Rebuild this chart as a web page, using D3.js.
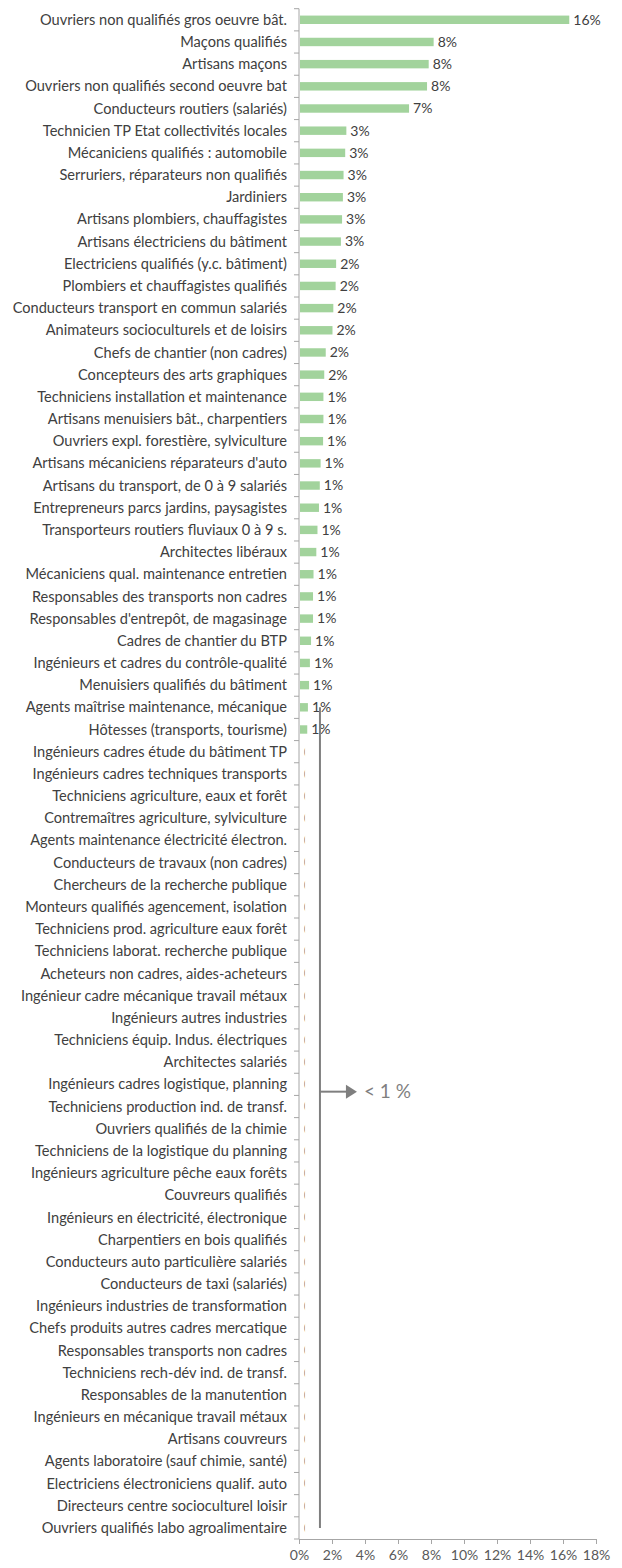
<!DOCTYPE html>
<html>
<head>
<meta charset="utf-8">
<script src="https://d3js.org/d3.v7.min.js"></script>
<style>
  body { margin: 0; background: #fff; }
  svg text { font-family: Lato, "Open Sans", sans-serif; }
  .cat { fill: #404040; font-size: 14.6px; }
  .val { fill: #404040; font-size: 14px; }
  .xax text { fill: #595959; font-size: 14px; }
  .note { fill: #7f7f7f; font-size: 19px; }
</style>
</head>
<body>
<svg width="622" height="1568"></svg>
<script>
const categories = [
  "Ouvriers non qualifiés gros oeuvre bât.",
  "Maçons qualifiés",
  "Artisans maçons",
  "Ouvriers non qualifiés second oeuvre bat",
  "Conducteurs routiers (salariés)",
  "Technicien TP Etat collectivités locales",
  "Mécaniciens qualifiés : automobile",
  "Serruriers, réparateurs non qualifiés",
  "Jardiniers",
  "Artisans plombiers, chauffagistes",
  "Artisans électriciens du bâtiment",
  "Electriciens qualifiés (y.c. bâtiment)",
  "Plombiers et chauffagistes qualifiés",
  "Conducteurs transport en commun salariés",
  "Animateurs socioculturels et de loisirs",
  "Chefs de chantier (non cadres)",
  "Concepteurs des arts graphiques",
  "Techniciens installation et maintenance",
  "Artisans menuisiers bât., charpentiers",
  "Ouvriers expl. forestière, sylviculture",
  "Artisans mécaniciens réparateurs d'auto",
  "Artisans du transport, de 0 à 9 salariés",
  "Entrepreneurs parcs jardins, paysagistes",
  "Transporteurs routiers fluviaux 0 à 9 s.",
  "Architectes libéraux",
  "Mécaniciens qual. maintenance entretien",
  "Responsables des transports non cadres",
  "Responsables d'entrepôt, de magasinage",
  "Cadres de chantier du BTP",
  "Ingénieurs et cadres du contrôle-qualité",
  "Menuisiers qualifiés du bâtiment",
  "Agents maîtrise maintenance, mécanique",
  "Hôtesses (transports, tourisme)",
  "Ingénieurs cadres étude du bâtiment TP",
  "Ingénieurs cadres techniques transports",
  "Techniciens agriculture, eaux et forêt",
  "Contremaîtres agriculture, sylviculture",
  "Agents maintenance électricité électron.",
  "Conducteurs de travaux (non cadres)",
  "Chercheurs de la recherche publique",
  "Monteurs qualifiés agencement, isolation",
  "Techniciens prod. agriculture eaux forêt",
  "Techniciens laborat. recherche publique",
  "Acheteurs non cadres, aides-acheteurs",
  "Ingénieur cadre mécanique travail métaux",
  "Ingénieurs autres industries",
  "Techniciens équip. Indus. électriques",
  "Architectes salariés",
  "Ingénieurs cadres logistique, planning",
  "Techniciens production ind. de transf.",
  "Ouvriers qualifiés de la chimie",
  "Techniciens de la logistique du planning",
  "Ingénieurs agriculture pêche eaux forêts",
  "Couvreurs qualifiés",
  "Ingénieurs en électricité, électronique",
  "Charpentiers en bois qualifiés",
  "Conducteurs auto particulière salariés",
  "Conducteurs de taxi (salariés)",
  "Ingénieurs industries de transformation",
  "Chefs produits autres cadres mercatique",
  "Responsables transports non cadres",
  "Techniciens rech-dév ind. de transf.",
  "Responsables de la manutention",
  "Ingénieurs en mécanique travail métaux",
  "Artisans couvreurs",
  "Agents laboratoire (sauf chimie, santé)",
  "Electriciens électroniciens qualif. auto",
  "Directeurs centre socioculturel loisir",
  "Ouvriers qualifiés labo agroalimentaire"
];

// share of each profession, in %
const values = [
  16.38, 8.16, 7.86, 7.76, 6.67,
  2.87, 2.80, 2.70, 2.66, 2.61, 2.54,
  2.25, 2.22, 2.08, 2.03, 1.62, 1.53,
  1.48, 1.48, 1.46, 1.31, 1.26, 1.21, 1.12, 1.05,
  0.88, 0.85, 0.85, 0.73, 0.66, 0.61, 0.54, 0.50,
  0.04, 0.04, 0.04, 0.04, 0.04, 0.04, 0.04, 0.04, 0.04,
  0.04, 0.04, 0.04, 0.04, 0.04, 0.04, 0.04, 0.04, 0.04,
  0.04, 0.04, 0.04, 0.04, 0.04, 0.04, 0.04, 0.04, 0.04,
  0.04, 0.04, 0.04, 0.04, 0.04, 0.04, 0.04, 0.04, 0.04
];

const xTicks = [0, 2, 4, 6, 8, 10, 12, 14, 16, 18];
const noteText = "< 1 %";

const data = categories.map((c, i) => ({ cat: c, val: values[i] }));

const margin = { left: 299, right: 26, top: 8.7, bottom: 29 };
const svg = d3.select('svg');
const width = +svg.attr('width');
const height = +svg.attr('height');
const innerWidth = width - margin.left - margin.right;
const innerHeight = height - margin.top - margin.bottom;

const g = svg.append('g')
  .attr('transform', `translate(${margin.left},${margin.top})`);

const x = d3.scaleLinear().domain([0, 18]).range([0, innerWidth]);
const y = d3.scaleBand().domain(categories).range([0, innerHeight])
  .paddingInner(0.62).paddingOuter(0.31);
const step = y.step();

// bars
g.selectAll('.bar').data(data).enter().append('rect')
  .attr('class', 'bar')
  .attr('x', 1)
  .attr('y', d => y(d.cat))
  .attr('width', d => Math.max(0, x(d.val) - 1))
  .attr('height', y.bandwidth())
  .attr('fill', '#a2d39c');

// category labels
g.selectAll('.cat').data(data).enter().append('text')
  .attr('class', 'cat')
  .attr('x', -12)
  .attr('y', d => y(d.cat) + y.bandwidth() / 2)
  .attr('dy', '0.35em')
  .attr('text-anchor', 'end')
  .text(d => d.cat);

// value labels; the tiny ones are mostly hidden in the original
const big = data.filter(d => d.val >= 0.3);
const tiny = data.filter(d => d.val < 0.3);

g.selectAll('.val').data(big).enter().append('text')
  .attr('class', 'val')
  .attr('x', d => x(d.val) + 4)
  .attr('y', d => y(d.cat) + y.bandwidth() / 2)
  .attr('dy', '0.35em')
  .text(d => Math.round(d.val) + '%');

svg.append('clipPath').attr('id', 'tinyclip')
  .append('rect')
  .attr('x', x(0.04) + 4)
  .attr('y', 0)
  .attr('width', 1.4)
  .attr('height', innerHeight);

g.append('g').attr('clip-path', 'url(#tinyclip)')
  .selectAll('text').data(tiny).enter().append('text')
  .attr('class', 'val')
  .attr('x', d => x(d.val) + 4)
  .attr('y', d => y(d.cat) + y.bandwidth() / 2)
  .attr('dy', '0.35em')
  .style('fill', '#9a9a9a')
  .text(d => Math.round(d.val) + '%');

// y axis line with ticks between categories
const yAxisG = g.append('g');
yAxisG.append('line')
  .attr('x1', 0).attr('x2', 0)
  .attr('y1', 0).attr('y2', innerHeight)
  .attr('stroke', '#a6a6a6');
yAxisG.selectAll('line.tk').data(d3.range(categories.length + 1)).enter().append('line')
  .attr('class', 'tk')
  .attr('x1', -5).attr('x2', 0)
  .attr('y1', i => i * step).attr('y2', i => i * step)
  .attr('stroke', '#a6a6a6');

// x axis
const xAxisG = g.append('g')
  .attr('class', 'xax')
  .attr('transform', `translate(0,${innerHeight})`)
  .call(d3.axisBottom(x).tickValues(xTicks).tickSize(5).tickPadding(6)
    .tickFormat(d => d + '%'));
xAxisG.selectAll('path, line').attr('stroke', '#a6a6a6');

// "< 1 %" bracket annotation
const noteX = x(1.27);
const topY = y(categories[31]) + y.bandwidth() / 2;
const botY = y(categories[categories.length - 1]) + y.bandwidth() / 2;
const arrowY = y(categories[48]) + y.bandwidth() / 2 + 0.33 * step;

g.append('line')
  .attr('x1', noteX).attr('x2', noteX)
  .attr('y1', topY).attr('y2', botY)
  .attr('stroke', '#7f7f7f').attr('stroke-width', 2);
g.append('line')
  .attr('x1', noteX).attr('x2', noteX + 28)
  .attr('y1', arrowY).attr('y2', arrowY)
  .attr('stroke', '#7f7f7f').attr('stroke-width', 2);
g.append('path')
  .attr('d', d3.line()([[noteX + 26, arrowY - 7], [noteX + 37, arrowY], [noteX + 26, arrowY + 7]]) + 'Z')
  .attr('fill', '#7f7f7f');
g.append('text')
  .attr('class', 'note')
  .attr('x', noteX + 44)
  .attr('y', arrowY)
  .attr('dy', '0.35em')
  .text(noteText);
</script>
</body>
</html>
